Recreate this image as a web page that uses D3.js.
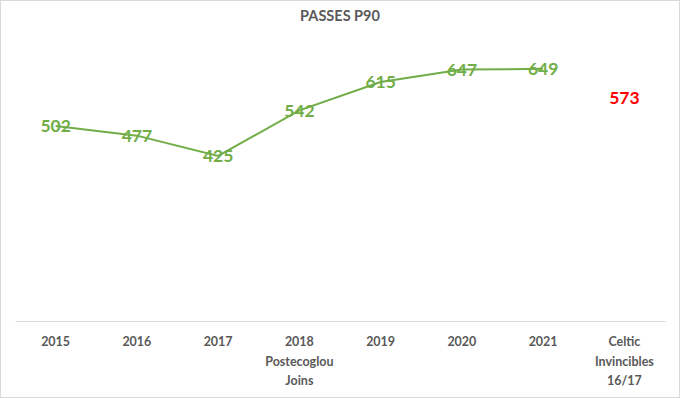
<!DOCTYPE html>
<html lang="en">
<head>
  <meta charset="UTF-8">
  <title>Passes P90</title>
  <script src="https://d3js.org/d3.v7.min.js"></script>
  <style>
    body { margin: 0; background: #fff; }
    svg { display: block; font-family: Lato, "Open Sans", sans-serif; }
  </style>
</head>
<body>
  <div id="chart"></div>
  <script>
    // datos
    const categorias = ["2015", "2016", "2017", "2018", "2019", "2020", "2021", "Celtic"];
    const etiquetas = [["2015"], ["2016"], ["2017"], ["2018", "Postecoglou", "Joins"], ["2019"], ["2020"], ["2021"], ["Celtic", "Invincibles", "16/17"]];
    const pases = [502, 477, 425, 542, 615, 647, 649];
    const celtic = 573;

    const ancho = 680, alto = 398;
    const margen = { superior: 49, derecho: 15, inferior: 77, izquierdo: 15 };

    const svg = d3.select("#chart").append("svg")
      .attr("width", ancho)
      .attr("height", alto);

    svg.append("rect")
      .attr("x", 0.5).attr("y", 0.5)
      .attr("width", ancho - 1).attr("height", alto - 1)
      .attr("fill", "#fff")
      .attr("stroke", "#d9d9d9");

    const x = d3.scaleBand()
      .domain(categorias)
      .range([margen.izquierdo, ancho - margen.derecho]);

    const y = d3.scaleLinear()
      .domain([0, 700])
      .range([alto - margen.inferior, margen.superior]);

    const cx = (c) => x(c) + x.bandwidth() / 2;

    // titulo
    svg.append("text")
      .attr("x", ancho / 2)
      .attr("y", 21)
      .attr("text-anchor", "middle")
      .attr("font-size", 14.5)
      .attr("font-weight", "bold")
      .attr("fill", "#595959")
      .text("PASSES P90");

    // eje x
    const ejeX = svg.append("g")
      .attr("transform", `translate(0, ${y(0)})`)
      .call(d3.axisBottom(x).tickSize(0).tickFormat(""));
    ejeX.select(".domain").attr("stroke", "#d9d9d9");

    const ticks = svg.append("g")
      .selectAll("text")
      .data(categorias)
      .enter()
      .append("text")
      .attr("x", (d) => cx(d))
      .attr("y", 346)
      .attr("text-anchor", "middle")
      .attr("font-size", 12.5)
      .attr("font-weight", "bold")
      .attr("fill", "#595959");

    ticks.selectAll("tspan")
      .data((d, i) => etiquetas[i])
      .enter()
      .append("tspan")
      .attr("x", function () { return d3.select(this.parentNode).attr("x"); })
      .attr("dy", (d, i) => (i === 0 ? 0 : 19.5))
      .text((d) => d);

    // linea
    const linea = d3.line()
      .x((d, i) => cx(categorias[i]))
      .y((d) => y(d));

    svg.append("path")
      .datum(pases)
      .attr("fill", "none")
      .attr("stroke", "#70AD47")
      .attr("stroke-width", 2)
      .attr("d", linea);

    // etiquetas de datos
    svg.append("g")
      .selectAll("text")
      .data(pases)
      .enter()
      .append("text")
      .attr("x", (d, i) => cx(categorias[i]))
      .attr("y", (d) => y(d))
      .attr("dy", "0.35em")
      .attr("text-anchor", "middle")
      .attr("font-size", 17.5)
      .attr("font-weight", "bold")
      .attr("fill", "#70AD47")
      .text((d) => d);

    svg.append("text")
      .attr("x", cx("Celtic"))
      .attr("y", y(celtic))
      .attr("dy", "0.35em")
      .attr("text-anchor", "middle")
      .attr("font-size", 17.5)
      .attr("font-weight", "bold")
      .attr("fill", "#FF0000")
      .text(celtic);
  </script>
</body>
</html>
